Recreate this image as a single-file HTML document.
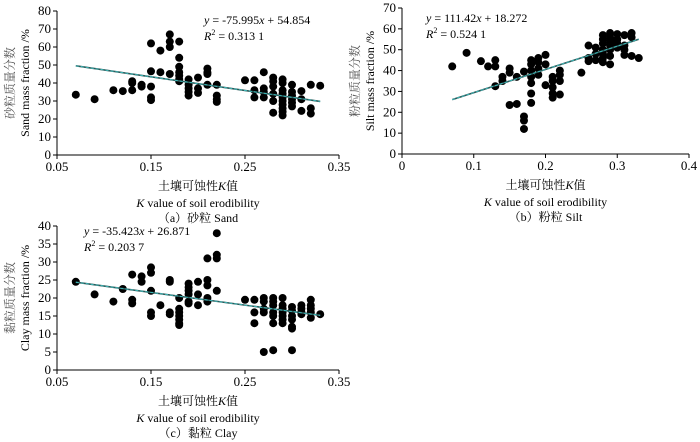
<!DOCTYPE html>
<html><head><meta charset="utf-8">
<style>
html,body{margin:0;padding:0;background:#fff;}
svg{display:block;font-family:"Liberation Serif","Noto Serif CJK SC",serif;}
</style></head>
<body>
<svg id="c" width="700" height="442" viewBox="0 0 700 442"></svg>
<script>
const sandK=[0.07,0.09,0.11,0.12,0.13,0.13,0.13,0.14,0.14,0.15,0.15,0.15,0.15,0.15,0.16,0.16,0.17,0.17,0.17,0.17,0.18,0.18,0.18,0.18,0.18,0.18,0.18,0.19,0.19,0.19,0.19,0.19,0.2,0.2,0.2,0.21,0.21,0.21,0.21,0.22,0.22,0.22,0.22,0.25,0.26,0.26,0.26,0.27,0.27,0.27,0.27,0.28,0.28,0.28,0.28,0.28,0.28,0.29,0.29,0.29,0.29,0.29,0.29,0.29,0.29,0.29,0.29,0.3,0.3,0.3,0.3,0.3,0.3,0.31,0.31,0.31,0.32,0.32,0.32,0.33];
const sandV=[33.5,31,36,35.5,36,40,41,38,39,62,46.5,38,32,30.5,58,46,67,63,60,45,63,54,49,46,44,42,41,42,39,37,35,33,43,37,34.5,48,46,45,39,39,33,31,29.5,41.5,41.5,36,32,46,37,35,32,43,41,38,34,30,23.5,42,40,36,34,32,30,28,26,24,22,39,35,33,31,29,27,35.5,31,24.5,39,26,23,38.5];
const siltK=[0.07,0.09,0.11,0.12,0.13,0.13,0.13,0.14,0.14,0.15,0.15,0.15,0.16,0.16,0.17,0.17,0.17,0.17,0.18,0.18,0.18,0.18,0.18,0.18,0.18,0.19,0.19,0.19,0.19,0.2,0.2,0.2,0.21,0.21,0.21,0.21,0.21,0.22,0.22,0.22,0.22,0.25,0.26,0.26,0.26,0.27,0.27,0.27,0.28,0.28,0.28,0.28,0.28,0.28,0.28,0.29,0.29,0.29,0.29,0.29,0.29,0.29,0.3,0.3,0.3,0.3,0.31,0.31,0.31,0.31,0.32,0.32,0.32,0.33];
const siltV=[42,48.5,44.5,42,45,42,32.5,37,35,41,39,23.5,37,24,39.5,18,16,12,45,43,40,37,34,29,24.5,46,44,41,38,47.5,43,33,37,35,32,29,27,40,38,35,28.5,39,52,46,44.5,51,48,45,57,55,53,50,48,46,44,58,56,54,52,50,47,43,57.5,55,53,51,57,52,50,47.5,58,56,47,46];
const clayK=[0.07,0.09,0.11,0.12,0.13,0.13,0.13,0.14,0.14,0.15,0.15,0.15,0.15,0.15,0.16,0.17,0.17,0.17,0.17,0.18,0.18,0.18,0.18,0.18,0.18,0.18,0.19,0.19,0.19,0.19,0.19,0.19,0.2,0.2,0.2,0.21,0.21,0.21,0.21,0.21,0.22,0.22,0.22,0.22,0.25,0.26,0.26,0.26,0.27,0.27,0.27,0.27,0.27,0.28,0.28,0.28,0.28,0.28,0.28,0.28,0.29,0.29,0.29,0.29,0.29,0.29,0.29,0.3,0.3,0.3,0.3,0.3,0.3,0.3,0.31,0.31,0.31,0.31,0.32,0.32,0.32,0.32,0.32,0.33];
const clayV=[24.5,21,19,22.5,26.5,19.5,18.5,26,24.5,28.5,27,22,16,15,18,25,24.5,16,15.5,20,17,16,15,14,13,12.5,24,23,22,21,19,18.5,24.5,21,18,31,25,23.5,20,19,38,32,31,22,19.5,19.5,16,13,20,19,17,16,5,20,19,18,16,15,13,5.5,20,18,17,16,15,14,13,17.5,16.5,15,14,12,11.5,5.5,18,17,16,15.5,19.5,18,17,16,14.5,15.5];
const sandFit=[-75.995,54.854], siltFit=[111.42,18.272], clayFit=[-35.423,26.871];
const xTicksA=[0.05,0.15,0.25,0.35], xTicksB=[0,0.1,0.2,0.3,0.4];
const yTicksA=[0,10,20,30,40,50,60,70,80], yTicksB=[0,10,20,30,40,50,60,70], yTicksC=[0,5,10,15,20,25,30,35,40];

const svg=document.getElementById('c');
const NS='http://www.w3.org/2000/svg';
function mk(tag,attrs,parent){const e=document.createElementNS(NS,tag);for(const k in attrs)e.setAttribute(k,attrs[k]);(parent||svg).appendChild(e);return e;}
function txt(s,x,y,size,anchor,parent,fill){const t=mk('text',{x:x,y:y,'font-size':size,'text-anchor':anchor||'middle',fill:fill||'#000'},parent);t.textContent=s;return t;}

function panel(o){
  const g=mk('g',{});
  
  
  const sx=v=>o.x0+(v-o.xmin)/(o.xmax-o.xmin)*(o.x1-o.x0);
  const sy=v=>o.y0-(v-o.ymin)/(o.ymax-o.ymin)*(o.y0-o.y1);
  const ax=mk('g',{},g);
  
  
  mk('line',{x1:o.x0,y1:o.y0,x2:o.x1,y2:o.y0,stroke:'#000','stroke-width':1},ax);
  mk('line',{x1:o.x0,y1:o.y0,x2:o.x0,y2:o.y1,stroke:'#000','stroke-width':1},ax);
  o.xt.forEach(v=>{const X=sx(v);mk('line',{x1:X,y1:o.y0,x2:X,y2:o.y0+4,stroke:'#000'},ax);
    const t=txt(String(v),X,o.y0+16,13,'middle',ax);
    
    });
  o.yt.forEach(v=>{const Y=sy(v);mk('line',{x1:o.x0-4,y1:Y,x2:o.x0,y2:Y,stroke:'#000'},ax);
    const t=txt(String(v),o.x0-6,Y+4,13,'end',ax);
    
    });
  const pts=mk('g',{},g);
  
  
  o.k.forEach((k,i)=>{const c=mk('circle',{cx:sx(k),cy:sy(o.v[i]),r:4,fill:'#000'},pts);
    
    });
  const xa=0.07,xb=0.33;
  const l1=mk('line',{x1:sx(xa),y1:sy(o.fit[0]*xa+o.fit[1]),x2:sx(xb),y2:sy(o.fit[0]*xb+o.fit[1]),stroke:'#2a5a5a','stroke-width':1.6},g);
  
  
  mk('line',{x1:sx(xa),y1:sy(o.fit[0]*xa+o.fit[1]),x2:sx(xb),y2:sy(o.fit[0]*xb+o.fit[1]),stroke:'#3fc8c8','stroke-width':0.8,'stroke-dasharray':'3,2'},g);
  const eq=mk('text',{x:o.eqx,y:o.eqy,'font-size':12},g);
  
  
  eq.innerHTML=o.eq;
  const r2=mk('text',{x:o.eqx,y:o.eqy+16,'font-size':12},g);
  
  
  r2.innerHTML='<tspan font-style="italic">R</tspan><tspan font-size="8" dy="-5">2</tspan><tspan dy="5"> = '+o.r2+'</tspan>';
  const yt=mk('text',{transform:`translate(${o.ytx},${(o.y0+o.y1)/2}) rotate(-90)`,'font-size':12,'text-anchor':'middle'},g);
  
  
  yt.innerHTML=`<tspan x="0" dy="-8" fill="#555" font-family="Noto Serif CJK SC,serif">${o.ycn}</tspan><tspan x="0" dy="15">${o.yen}</tspan>`;
  const cx=(o.x0+o.x1)/2;
  const xc=mk('text',{x:cx,y:o.y0+35,'font-size':12,'text-anchor':'middle','font-family':'Noto Serif CJK SC,serif'},g);
  
  
  xc.innerHTML='土壤可蚀性<tspan font-style="italic" font-family="Liberation Serif">K</tspan>值';
  const xe=mk('text',{x:cx,y:o.y0+52,'font-size':12,'text-anchor':'middle'},g);
  
  
  xe.innerHTML='<tspan font-style="italic">K</tspan> value of soil erodibility';
  const cap=txt(o.cap,cx,o.y0+67,12,'middle',g);
  
  
}
panel({name:'panel-a-sand',x0:57,x1:339,y0:155,y1:11,xmin:0.05,xmax:0.35,ymin:0,ymax:80,xt:xTicksA,yt:yTicksA,k:sandK,v:sandV,fit:sandFit,
  eq:'<tspan font-style="italic">y</tspan> = -75.995<tspan font-style="italic">x</tspan> + 54.854',r2:'0.313 1',eqx:204,eqy:24,ytx:22,ycn:'砂粒质量分数',yen:'Sand mass fraction /%',cap:'（a）砂粒 Sand'});
panel({name:'panel-b-silt',x0:402,x1:689,y0:154,y1:8,xmin:0,xmax:0.4,ymin:0,ymax:70,xt:xTicksB,yt:yTicksB,k:siltK,v:siltV,fit:siltFit,
  eq:'<tspan font-style="italic">y</tspan> = 111.42<tspan font-style="italic">x</tspan> + 18.272',r2:'0.524 1',eqx:426,eqy:22,ytx:367,ycn:'粉粒质量分数',yen:'Silt mass fraction /%',cap:'（b）粉粒 Silt'});
panel({name:'panel-c-clay',x0:57,x1:339,y0:370,y1:226,xmin:0.05,xmax:0.35,ymin:0,ymax:40,xt:xTicksA,yt:yTicksC,k:clayK,v:clayV,fit:clayFit,
  eq:'<tspan font-style="italic">y</tspan> = -35.423<tspan font-style="italic">x</tspan> + 26.871',r2:'0.203 7',eqx:84,eqy:235,ytx:22,ycn:'黏粒质量分数',yen:'Clay mass fraction /%',cap:'（c）黏粒 Clay'});
</script>
</body></html>
